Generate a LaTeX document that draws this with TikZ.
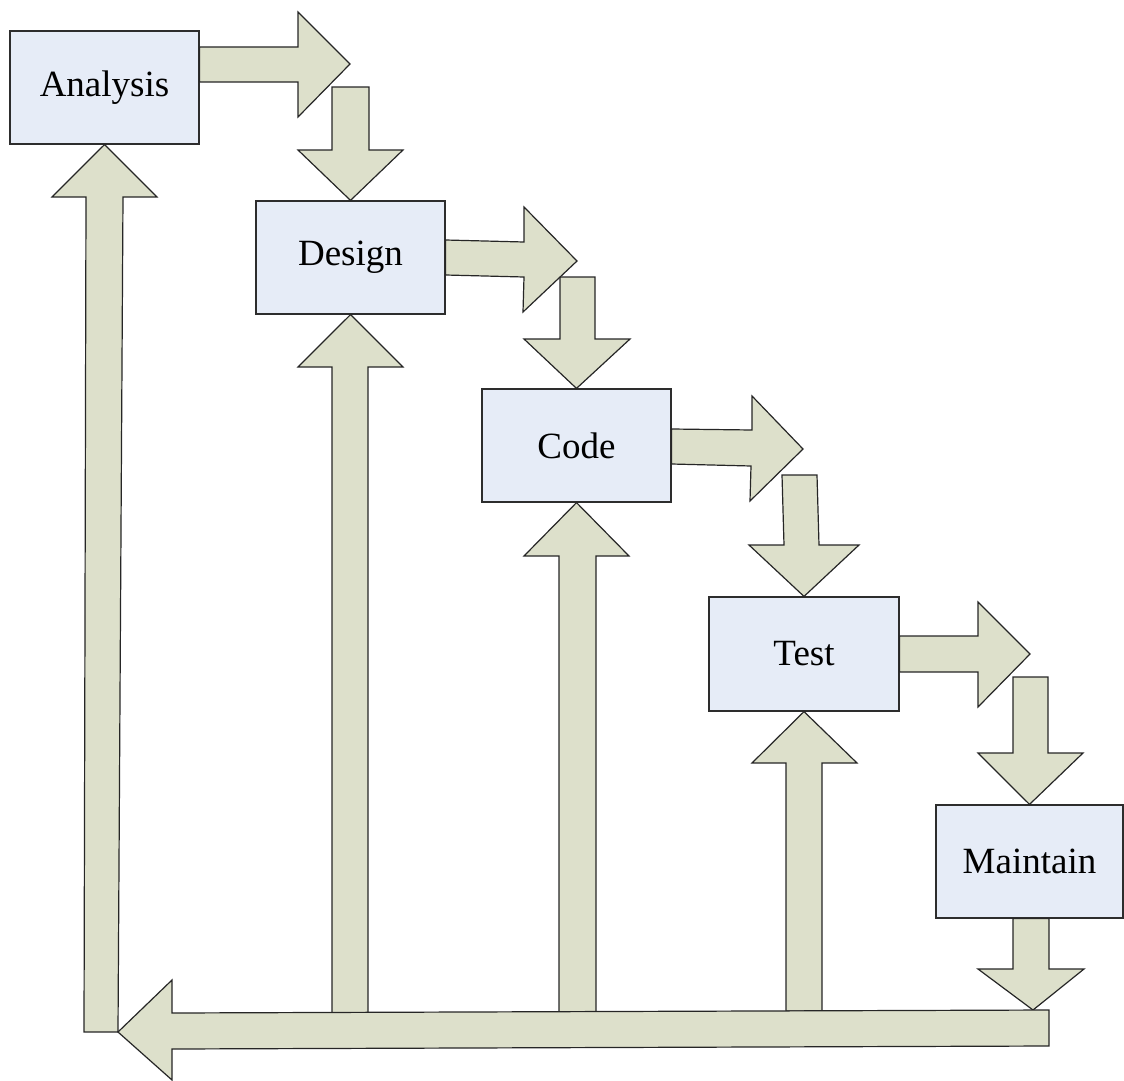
\documentclass[tikz,border=0pt]{standalone}
\usepackage{fontspec}
\setmainfont{Liberation Serif}
\usetikzlibrary{positioning}
\definecolor{boxblue}{RGB}{230,236,247}
\definecolor{arrowgreen}{RGB}{221,224,203}
\definecolor{edgegrey}{RGB}{45,45,45}
\tikzset{
  stage/.style={draw=edgegrey, line width=1.2pt, fill=boxblue, minimum width=189pt, minimum height=113pt, inner sep=0pt, font=\fontsize{37}{44}\selectfont},
  blockarrow/.style={draw=black!85, line width=1.2pt, fill=arrowgreen, line join=miter}
}

\begin{document}
\begin{tikzpicture}[x=1pt,y=-1pt]
	\useasboundingbox (0,0) rectangle (1124,1081);
	% stages
	\node[stage] (analysis) at (104.5,87.5) {Analysis};
	\node[stage] (design) at (350.5,257.5) {Design};
	\node[stage] (code) at (576.5,445.5) {Code};
	\node[stage, minimum width=190pt, minimum height=114pt] (test) at (804,654) {Test};
	\node[stage, minimum width=187pt] (maintain) at (1029.5,861.5) {Maintain};
	
	% feedback arrows going up
	\draw[blockarrow] (84,1032) -- (86,197) -- (52,197) -- (analysis.south) -- (157,197) -- (123,197) -- (118,1032) -- cycle;
	\draw[blockarrow] (332,1013) -- (332,367) -- (298,367) -- (design.south) -- (403,367) -- (368,367) -- (368,1013) -- cycle;
	\draw[blockarrow] (559,1012) -- (559,556) -- (524,556) -- (code.south) -- (629,556) -- (596,556) -- (596,1012) -- cycle;
	\draw[blockarrow] (786,1011) -- (786,763) -- (752,763) -- (test.south) -- (857,763) -- (822,763) -- (822,1011) -- cycle;
	
	% arrows going down
	\draw[blockarrow] (332,87) -- (369,87) -- (369,150) -- (403,150) -- (design.north) -- (298,150) -- (332,150) -- cycle;
	\draw[blockarrow] (560,277) -- (595,277) -- (595,339) -- (630,339) -- (code.north) -- (524,339) -- (560,339) -- cycle;
	\draw[blockarrow] (782,475) -- (817,475) -- (819,545) -- (859,545) -- (test.north) -- (749,545) -- (784,545) -- cycle;
	\draw[blockarrow] (1013,677) -- (1048,677) -- (1048,753) -- (1083,753) -- (maintain.north) -- (978,753) -- (1013,753) -- cycle;
	\draw[blockarrow] (maintain.south -| 1013,0) -- (maintain.south -| 1049,0) -- (1049,969) -- (1084,969) -- (1033,1010) -- (978,969) -- (1013,969) -- cycle;
	
	% arrows going right
	\draw[blockarrow] (analysis.east |- 0,47) -- (298,47) -- (298,12) -- (350,64) -- (298,117) -- (298,82) -- (analysis.east |- 0,82) -- cycle;
	\draw[blockarrow] (design.east |- 0,240) -- (524,242) -- (524,207) -- (577,261) -- (523,312) -- (524,277) -- (design.east |- 0,275) -- cycle;
	\draw[blockarrow] (code.east |- 0,429) -- (752,430) -- (752,396) -- (803,449) -- (750,501) -- (751,466) -- (code.east |- 0,464) -- cycle;
	\draw[blockarrow] (test.east |- 0,636) -- (978,636) -- (978,602) -- (1030,654) -- (978,707) -- (978,672) -- (test.east |- 0,672) -- cycle;
	
	% long arrow back to the start
	\draw[blockarrow] (1049,1010) -- (1049,1046) -- (172,1049) -- (172,1080) -- (118,1032) -- (172,980) -- (172,1013) -- cycle;
\end{tikzpicture}
\end{document}
